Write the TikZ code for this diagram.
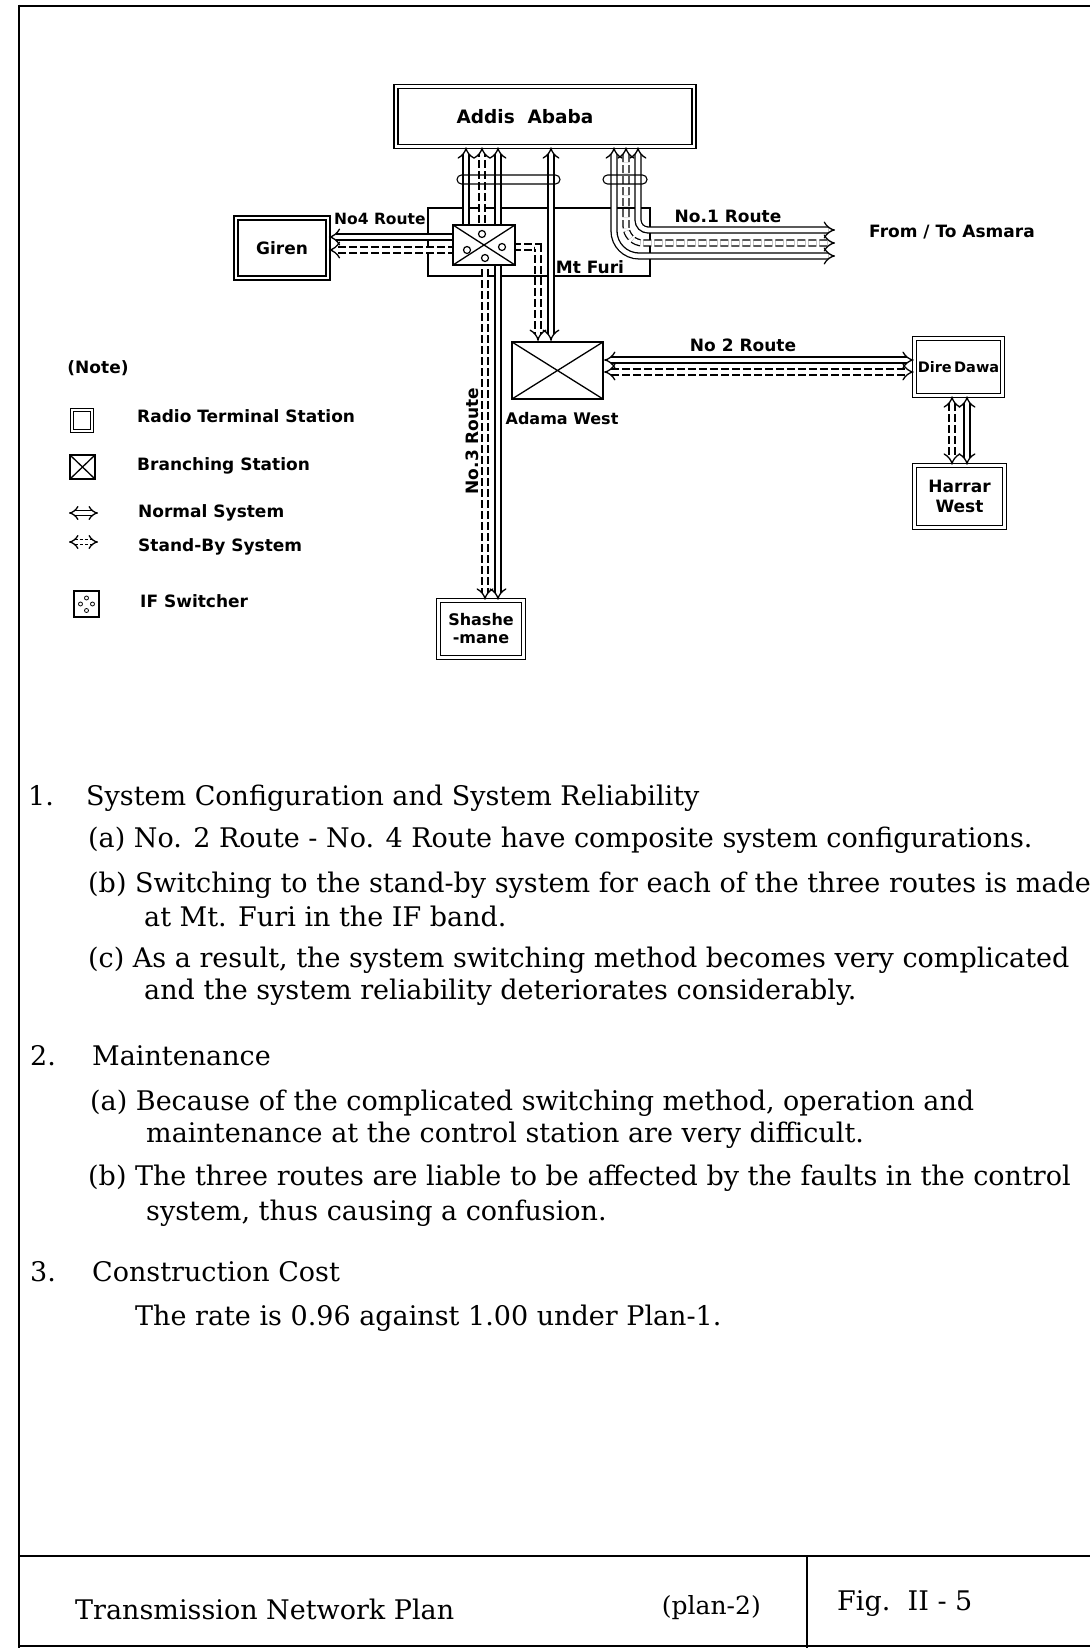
\documentclass[tikz,border=0pt]{standalone}
\usepackage{fontspec}
\setmainfont{DejaVu Serif}
\setsansfont{DejaVu Sans}
\usetikzlibrary{arrows.meta}
\begin{document}
\begin{tikzpicture}[x=1pt,y=-1pt,
  >={Implies},
  lab/.style={font=\sffamily\bfseries\fontsize{17}{20}\selectfont, inner sep=0pt},
  body/.style={font=\fontsize{27}{30}\selectfont, anchor=base west, inner sep=0pt},
  station/.style={draw, double, double distance=2.5pt, line width=1.6pt, inner sep=0pt, align=center, lab},
  xbox/.style={draw, inner sep=0pt, path picture={\draw[line width=1.3pt] (path picture bounding box.north west) -- (path picture bounding box.south east) (path picture bounding box.north east) -- (path picture bounding box.south west);}},
  swc/.style={circle, draw, line width=1.2pt, fill=white, minimum size=7pt, inner sep=0pt},
  nsys/.style={double, double distance=4.6pt, line width=1.3pt},
  ssys/.style={nsys, dash pattern=on 8pt off 3pt},
  loopbox/.style={draw, line width=1.1pt, rounded corners=4.5pt, inner sep=0pt, minimum height=9pt},
  frame/.style={line width=2.6pt}
]
\useasboundingbox (0,0) rectangle (1090,1648);
% frame
\draw[frame] (19,6) -- (1090,6);
\draw[frame] (19,4.7) -- (19,1648);
\draw[frame] (19,1556) -- (1090,1556);
\draw[frame] (807,1556) -- (807,1648);
\draw[frame] (19,1646) -- (1090,1646);

% stations
\node[station, minimum width=298, minimum height=60, font=\sffamily\bfseries\fontsize{18.5}{22}\selectfont] (addis) at (545,116.5) {Addis\ \ Ababa\hspace*{40pt}};
\node[draw, line width=1.5pt, minimum width=222, minimum height=68, inner sep=0pt] (mtfuri) at (539,242) {};
\node[station, minimum width=92, minimum height=60] (giren) at (282,248) {Giren};
\node[station, minimum width=88, minimum height=57, font=\sffamily\bfseries\fontsize{14.5}{18}\selectfont] (dire) at (958.5,367) {Dire\,Dawa};
\node[station, minimum width=90, minimum height=62] (harrar) at (959.5,496.5) {Harrar\\West};
\node[station, minimum width=85, minimum height=57, font=\sffamily\bfseries\fontsize{16}{18}\selectfont] (shash) at (481,629) {Shashe\\-mane};
\node[xbox, line width=2.2pt, minimum width=91, minimum height=57] (adama) at (557.5,370.5) {};

% coordinates
\coordinate (c4) at (466,237);
\coordinate (v497) at (498,0);
\coordinate (v551) at (551,0);
\coordinate (v539) at (538,0);
\coordinate (v615) at (614,0);
\coordinate (v626) at (626,0);
\coordinate (v637) at (638,0);
\coordinate (a1) at (835,230);
\coordinate (a2) at (835,243);
\coordinate (a3) at (835,256);
\coordinate (h361) at (0,360);
\coordinate (h372) at (0,372);
\coordinate (v953) at (952,0);
\coordinate (v967) at (967,0);

% IF switcher circles (positions)
\coordinate (pT) at (482,234);
\coordinate (pL) at (467,250);
\coordinate (pR) at (502,247);
\coordinate (pB) at (485,258);

% routes
\draw[nsys,<->] (addis.south -| c4) -- (c4) -- (giren.east |- c4);
\draw[ssys,->] (pL) -- (giren.east |- pL);
\draw[ssys,->] (pT) -- (addis.south -| pT);
\draw[nsys,<->] (addis.south -| v497) -- (shash.north -| v497);
\draw[ssys,->] (pB) -- (shash.north -| pB);
\draw[nsys,<->] (addis.south -| v551) -- (adama.north -| v551);
\draw[ssys,->] (pR) -- (pR -| v539) -- (adama.north -| v539);
\draw[nsys,<->,rounded corners=10pt] (addis.south -| v637) |- (a1);
\draw[ssys,<->,rounded corners=17pt] (addis.south -| v626) |- (a2);
\draw[nsys,<->,rounded corners=25pt] (addis.south -| v615) |- (a3);
\draw[nsys,<->] (adama.east |- h361) -- (dire.west |- h361);
\draw[ssys,<->] (adama.east |- h372) -- (dire.west |- h372);
\draw[ssys,<->] (dire.south -| v953) -- (harrar.north -| v953);
\draw[nsys,<->] (dire.south -| v967) -- (harrar.north -| v967);

% switcher
\node[xbox, line width=1.8pt, fill=white, minimum width=62, minimum height=40] (sw) at (484,245) {};
\node[swc] (cT) at (pT) {};
\node[swc] (cL) at (pL) {};
\node[swc] (cR) at (pR) {};
\node[swc] (cB) at (pB) {};

% bundle loops
\node[loopbox, minimum width=103] (loopL) at (508.5,179.5) {};
\node[loopbox, minimum width=44] (loopR) at (625,179.5) {};

% labels
\node[lab, anchor=west, font=\sffamily\bfseries\fontsize{15.5}{18}\selectfont] (no4) at (334,219) {No4 Route};
\node[lab] (no1) at (728,216) {No.1 Route};
\node[lab, anchor=west] (asm) at (869,232) {From / To Asmara};
\node[lab] (mtl) at (590,267) {Mt Furi};
\node[lab] (no2) at (743,345) {No 2 Route};
\node[lab, font=\sffamily\bfseries\fontsize{16}{18}\selectfont] (adl) at (562,419) {Adama West};
\node[lab, rotate=90] (no3) at (472,441) {No.3 Route};

% legend
\node[lab] (note) at (98,368) {(Note)};
\node[station, minimum width=20, minimum height=21, double distance=2pt, line width=1.3pt] (lgT) at (82,420.5) {};
\node[lab, anchor=west] (lgTt) at (137,416) {Radio Terminal Station};
\node[xbox, line width=1.5pt, minimum width=25, minimum height=24] (lgB) at (82.5,467) {};
\node[lab, anchor=west] (lgBt) at (137,466) {Branching Station};
\coordinate (lgN1) at (69,513);
\coordinate (lgN2) at (98,513);
\draw[nsys,<->,double distance=3.5pt] (lgN1) -- (lgN2);
\node[lab, anchor=west] (lgNt) at (138,513) {Normal System};
\coordinate (lgS1) at (69,542);
\coordinate (lgS2) at (98,542);
\draw[ssys,<->,double distance=3.5pt,dash pattern=on 3pt off 2pt] (lgS1) -- (lgS2);
\node[lab, anchor=west] (lgSt) at (138,547) {Stand-By System};
\node[draw, line width=1.5pt, minimum width=25, minimum height=26, inner sep=0pt] (lgI) at (86.5,604) {};
\node[circle, draw, line width=0.8pt, minimum size=4pt, inner sep=0pt] (lgI1) at (86.5,598) {};
\node[circle, draw, line width=0.8pt, minimum size=4pt, inner sep=0pt] (lgI2) at (80.5,604) {};
\node[circle, draw, line width=0.8pt, minimum size=4pt, inner sep=0pt] (lgI3) at (92.5,604) {};
\node[circle, draw, line width=0.8pt, minimum size=4pt, inner sep=0pt] (lgI4) at (86.5,610.5) {};
\node[lab, anchor=west] (lgIt) at (140,601) {IF Switcher};

% body text
\node[body] (n1) at (28,805) {1.};
\node[body] (t1) at (86,805) {System Configuration and System Reliability};
\node[body] (t1a) at (88,847) {(a) No. 2 Route - No. 4 Route have composite system configurations.};
\node[body] (t1b) at (88,892) {(b) Switching to the stand-by system for each of the three routes is made};
\node[body] (t1b2) at (144,926) {at Mt. Furi in the IF band.};
\node[body] (t1c) at (88,967) {(c) As a result, the system switching method becomes very complicated};
\node[body] (t1c2) at (144,999) {and the system reliability deteriorates considerably.};
\node[body] (n2) at (30,1065) {2.};
\node[body] (t2) at (92,1065) {Maintenance};
\node[body] (t2a) at (90,1110) {(a) Because of the complicated switching method, operation and};
\node[body] (t2a2) at (146,1142) {maintenance at the control station are very difficult.};
\node[body] (t2b) at (88,1185) {(b) The three routes are liable to be affected by the faults in the control};
\node[body] (t2b2) at (146,1220) {system, thus causing a confusion.};
\node[body] (n3) at (30,1281) {3.};
\node[body] (t3) at (92,1281) {Construction Cost};
\node[body] (t3a) at (135,1325) {The rate is 0.96 against 1.00 under Plan-1.};

% footer
\node[body] (f1) at (75,1619) {Transmission Network Plan};
\node[body, anchor=base east, font=\fontsize{25}{28}\selectfont] (f2) at (761,1614) {(plan-2)};
\node[body] (f3) at (837,1610) {Fig.\ \ II\ -\ 5};
\end{tikzpicture}
\end{document}
